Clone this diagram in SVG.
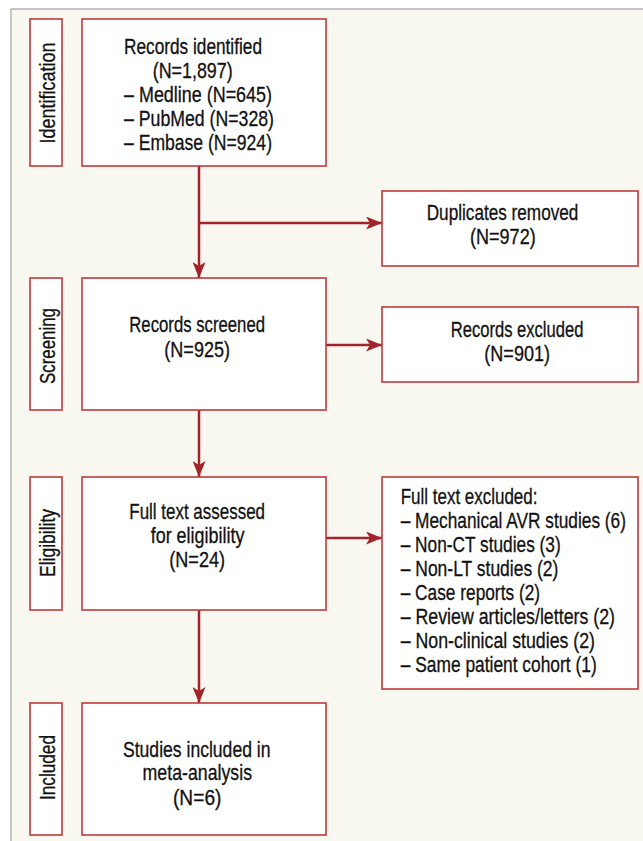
<svg xmlns="http://www.w3.org/2000/svg" width="643" height="841" viewBox="0 0 643 841">
<style>
.box{fill:#ffffff;stroke:#c0393e;stroke-width:1.6}
.t{font-family:"Liberation Sans Narrow","Liberation Sans",Arial,sans-serif;font-size:22px;fill:#111111;stroke:#111111;stroke-width:0.3}
.lab{font-family:"Liberation Sans Narrow","Liberation Sans",Arial,sans-serif;font-size:22px;fill:#111111;stroke:#111111;stroke-width:0.3}
.conn{fill:none;stroke:#a3232a;stroke-width:2.5}
</style>
<defs>
<marker id="ah" markerUnits="userSpaceOnUse" markerWidth="16" markerHeight="13" refX="16" refY="6.5" orient="auto">
<path d="M0,0 L16,6.5 L0,13 L4,6.5 z" fill="#a3232a"/>
</marker>
</defs>
<rect x="0" y="0" width="643" height="841" fill="#ffffff"/>
<rect x="11" y="9" width="632" height="832" fill="#f8f7f0"/>
<path d="M11,9 H643 M11,9 V841" fill="none" stroke="#b3b3b3" stroke-width="1.4"/>

<g id="connectors">
<path class="conn" d="M199,166 V278" marker-end="url(#ah)"/>
<path class="conn" d="M199,223 H382" marker-end="url(#ah)"/>
<path class="conn" d="M326,345 H382" marker-end="url(#ah)"/>
<path class="conn" d="M199,410 V477" marker-end="url(#ah)"/>
<path class="conn" d="M326,538 H382" marker-end="url(#ah)"/>
<path class="conn" d="M199,610 V703" marker-end="url(#ah)"/>
</g>

<g id="label-identification">
<rect class="box" x="30" y="19" width="32" height="147"/>
<text class="lab" transform="translate(55,143.5) rotate(-90)" x="0" y="0" textLength="101" lengthAdjust="spacingAndGlyphs">Identification</text>
</g>
<g id="label-screening">
<rect class="box" x="30" y="278" width="32" height="132"/>
<text class="lab" transform="translate(55,384) rotate(-90)" x="0" y="0" textLength="76" lengthAdjust="spacingAndGlyphs">Screening</text>
</g>
<g id="label-eligibility">
<rect class="box" x="30" y="477" width="32" height="133"/>
<text class="lab" transform="translate(55,577) rotate(-90)" x="0" y="0" textLength="68" lengthAdjust="spacingAndGlyphs">Eligibility</text>
</g>
<g id="label-included">
<rect class="box" x="30" y="703" width="32" height="132"/>
<text class="lab" transform="translate(55,800) rotate(-90)" x="0" y="0" textLength="65" lengthAdjust="spacingAndGlyphs">Included</text>
</g>

<g id="records-identified">
<rect class="box" x="82" y="19" width="244" height="147"/>
<text class="t" x="124" y="54" textLength="138" lengthAdjust="spacingAndGlyphs">Records identified</text>
<text class="t" x="152.7" y="78" textLength="80" lengthAdjust="spacingAndGlyphs">(N=1,897)</text>
<text class="t" x="124" y="102" textLength="148" lengthAdjust="spacingAndGlyphs">– Medline (N=645)</text>
<text class="t" x="124" y="126" textLength="150" lengthAdjust="spacingAndGlyphs">– PubMed (N=328)</text>
<text class="t" x="124" y="150" textLength="148" lengthAdjust="spacingAndGlyphs">– Embase (N=924)</text>
</g>

<g id="duplicates-removed">
<rect class="box" x="382" y="191" width="256" height="75"/>
<text class="t" x="426.7" y="220" textLength="151.7" lengthAdjust="spacingAndGlyphs">Duplicates removed</text>
<text class="t" x="470" y="244" textLength="65.7" lengthAdjust="spacingAndGlyphs">(N=972)</text>
</g>

<g id="records-screened">
<rect class="box" x="82" y="278" width="244" height="132"/>
<text class="t" x="129.3" y="331.5" textLength="135.7" lengthAdjust="spacingAndGlyphs">Records screened</text>
<text class="t" x="164.3" y="356.5" textLength="65.7" lengthAdjust="spacingAndGlyphs">(N=925)</text>
</g>

<g id="records-excluded">
<rect class="box" x="382" y="307" width="256" height="75"/>
<text class="t" x="450.7" y="336.5" textLength="132.7" lengthAdjust="spacingAndGlyphs">Records excluded</text>
<text class="t" x="484.3" y="360.5" textLength="65.7" lengthAdjust="spacingAndGlyphs">(N=901)</text>
</g>

<g id="full-text-assessed">
<rect class="box" x="82" y="477" width="244" height="133"/>
<text class="t" x="129.3" y="519" textLength="135.7" lengthAdjust="spacingAndGlyphs">Full text assessed</text>
<text class="t" x="150.7" y="543" textLength="93.7" lengthAdjust="spacingAndGlyphs">for eligibility</text>
<text class="t" x="169.3" y="567" textLength="55.7" lengthAdjust="spacingAndGlyphs">(N=24)</text>
</g>

<g id="full-text-excluded">
<rect class="box" x="382" y="477" width="256" height="212"/>
<text class="t" transform="translate(400.7,504) scale(0.78,1)" x="0" y="0" textLength="175.3" lengthAdjust="spacingAndGlyphs">Full text excluded:</text>
<text class="t" transform="translate(400.7,528) scale(0.78,1)" x="0" y="0" textLength="288.8" lengthAdjust="spacingAndGlyphs">– Mechanical AVR studies (6)</text>
<text class="t" transform="translate(400.7,552) scale(0.78,1)" x="0" y="0" textLength="205.1" lengthAdjust="spacingAndGlyphs">– Non-CT studies (3)</text>
<text class="t" transform="translate(400.7,576) scale(0.78,1)" x="0" y="0" textLength="202.2" lengthAdjust="spacingAndGlyphs">– Non-LT studies (2)</text>
<text class="t" transform="translate(400.7,600) scale(0.78,1)" x="0" y="0" textLength="178.6" lengthAdjust="spacingAndGlyphs">– Case reports (2)</text>
<text class="t" transform="translate(400.7,624) scale(0.78,1)" x="0" y="0" textLength="274.7" lengthAdjust="spacingAndGlyphs">– Review articles/letters (2)</text>
<text class="t" transform="translate(400.7,648) scale(0.78,1)" x="0" y="0" textLength="249.1" lengthAdjust="spacingAndGlyphs">– Non-clinical studies (2)</text>
<text class="t" transform="translate(400.7,672) scale(0.78,1)" x="0" y="0" textLength="251.3" lengthAdjust="spacingAndGlyphs">– Same patient cohort (1)</text>
</g>

<g id="studies-included">
<rect class="box" x="82" y="703" width="244" height="132"/>
<text class="t" x="123" y="756.5" textLength="147.5" lengthAdjust="spacingAndGlyphs">Studies included in</text>
<text class="t" x="142.6" y="780" textLength="109.4" lengthAdjust="spacingAndGlyphs">meta-analysis</text>
<text class="t" x="173" y="804.5" textLength="48.4" lengthAdjust="spacingAndGlyphs">(N=6)</text>
</g>
</svg>
